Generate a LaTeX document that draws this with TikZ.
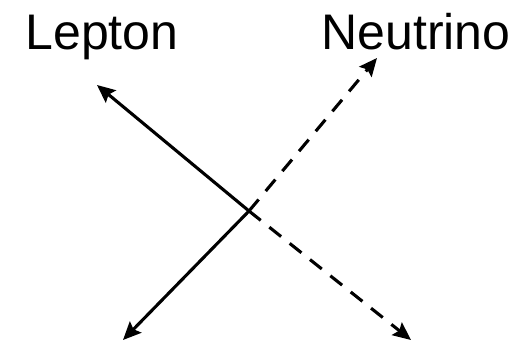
\documentclass[tikz,border=0pt]{standalone}
\usepackage{fontspec}
\setmainfont{Liberation Sans}
\usetikzlibrary{arrows.meta,positioning,calc}

\begin{document}
\begin{tikzpicture}[x=1pt,y=-1pt,line width=3.1pt,
    leg/.style={-{Stealth[length=18pt,width=16pt,inset=3pt]}},
    lab/.style={anchor=base,inner sep=0pt,font=\fontsize{50}{60}\selectfont},
    nudash/.style={dash pattern=on 15pt off 11pt}]
    \useasboundingbox (0,0) rectangle (519,350);
    \coordinate (vtx) at (249,211);
    \coordinate (lep) at (97,85);
    \coordinate (lepb) at (123,340);
    \coordinate (nu) at (377,58);
    \coordinate (nub) at (411,340);
    \node[lab] (leptonlab) at (102,50) {Lepton};
    \node[lab] (neutrinolab) at (416,50) {Neutrino};
    % solid legs
    \foreach \e in {lep,lepb}{
      \draw[leg] (vtx) -- (\e);}
    % dashed legs
    \foreach \e in {nu,nub}{
      \draw[leg,nudash] (vtx) -- (\e);}
  \end{tikzpicture}
\end{document}
